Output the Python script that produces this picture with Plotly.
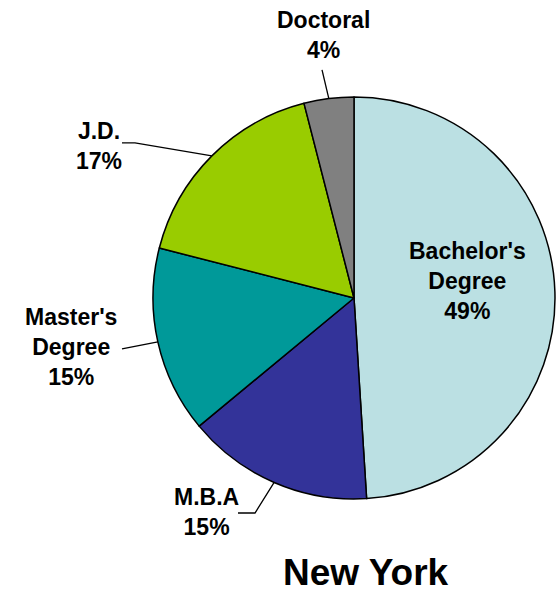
import math
import plotly.graph_objects as go

# ---- data ----
categories = ["Bachelor's Degree", "M.B.A", "Master's Degree", "J.D.", "Doctoral"]
values = [49, 15, 15, 17, 4]
label_text = ["Bachelor's<br>Degree", "M.B.A", "Master's<br>Degree", "J.D.", "Doctoral"]
colors = ["#BBE0E3", "#333399", "#009999", "#99CC00", "#808080"]
title_text = "New York"

# ---- layout (pixels) ----
W, H = 558, 593
CX, CY, R = 354, 298, 201

def px(x, y):
    return x / W, 1 - y / H

# label block centers and leader waypoints (pixel positions; styling only)
label_pos = {
    "Bachelor's Degree": (467, 281),
    "M.B.A": (206, 512),
    "Master's Degree": (71, 347),
    "J.D.": (99, 146),
    "Doctoral": (323, 35),
}
leader_pts = {
    "M.B.A": [(238, 513), (255, 513)],
    "Master's Degree": [(122, 349)],
    "J.D.": [(122, 143), (135, 143)],
    "Doctoral": [(322, 70)],
}

font_family = "Arial, Liberation Sans, sans-serif"

fig = go.Figure(go.Pie(
    labels=categories,
    values=values,
    sort=False,
    direction="clockwise",
    rotation=0,
    marker=dict(colors=colors, line=dict(color="black", width=1.5)),
    textinfo="none",
    hoverinfo="label+percent",
    showlegend=False,
    domain=dict(x=[(CX - R) / W, (CX + R) / W], y=[1 - (CY + R) / H, 1 - (CY - R) / H]),
))

total = sum(values)
annotations = []
shapes = []
cum = 0.0
for cat, val, txt in zip(categories, values, label_text):
    mid = (cum + val / 2) / total * 2 * math.pi
    cum += val
    pct = round(val / total * 100)
    lx, ly = label_pos[cat]
    x, y = px(lx, ly)
    annotations.append(dict(
        x=x, y=y, xref="paper", yref="paper", xanchor="center", yanchor="middle",
        text=f"{txt}<br>{pct}%", showarrow=False,
        font=dict(family=font_family, size=23, color="black", weight="bold"),
    ))
    if cat in leader_pts:
        ex = CX + R * math.sin(mid)
        ey = CY - R * math.cos(mid)
        pts = leader_pts[cat] + [(ex, ey)]
        path = ""
        for i, (a, b) in enumerate(pts):
            pa, pb = px(a, b)
            path += ("M" if i == 0 else " L") + f" {pa:.4f},{pb:.4f}"
        shapes.append(dict(type="path", path=path, xref="paper", yref="paper",
                           line=dict(color="black", width=1.3)))

tx, ty = px(366, 572)
annotations.append(dict(
    x=tx, y=ty, xref="paper", yref="paper", xanchor="center", yanchor="middle",
    text=title_text, showarrow=False, borderpad=0,
    font=dict(family=font_family, size=37, color="black", weight="bold"),
))

fig.update_layout(
    width=W, height=H,
    margin=dict(l=0, r=0, t=0, b=0),
    paper_bgcolor="white", plot_bgcolor="white",
    annotations=annotations, shapes=shapes,
)

fig.write_html("out.html", config={"displayModeBar": False},
               post_script="document.body.style.margin='0';document.body.style.overflow='hidden';")
